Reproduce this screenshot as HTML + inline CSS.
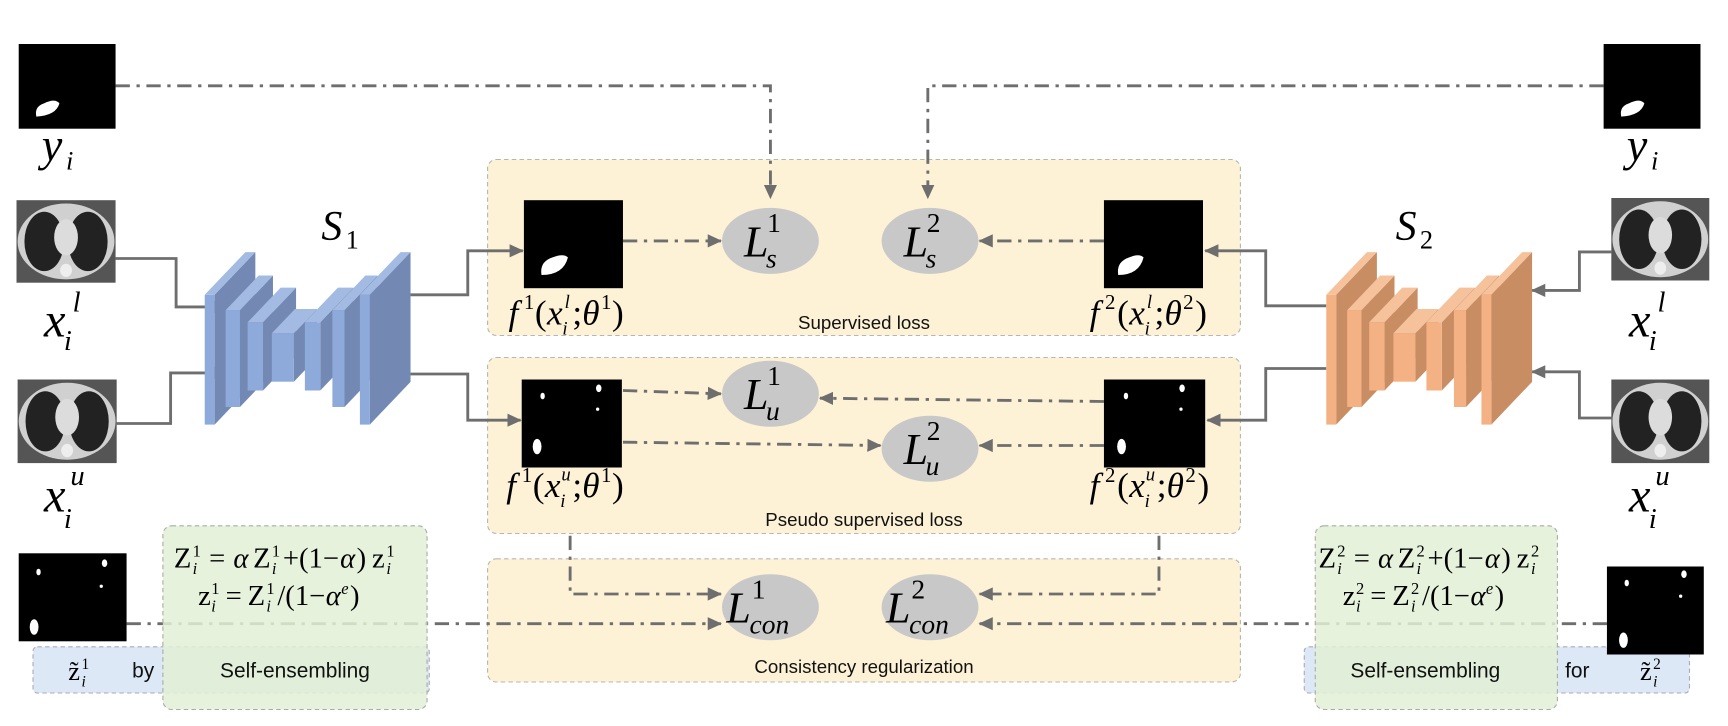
<!DOCTYPE html>
<html><head><meta charset="utf-8">
<style>
html,body{margin:0;padding:0;background:#fff;width:1728px;height:726px;overflow:hidden}
svg{display:block}
.m{font-family:"Liberation Serif",serif;font-style:italic;fill:#000}
.r{font-family:"Liberation Serif",serif;fill:#000}
.s{font-family:"Liberation Sans",sans-serif;fill:#111}
.ln{stroke:#6e6e6e;stroke-width:2.6;fill:none}
.dd{stroke:#6e6e6e;stroke-width:2.6;fill:none;stroke-dasharray:13,6,3,6}
.n{font-style:normal}
.it{font-style:italic}
</style></head><body>
<svg width="1728" height="726" viewBox="0 0 1570 660" preserveAspectRatio="none" xmlns="http://www.w3.org/2000/svg">
<defs>
<marker id="ah" markerUnits="userSpaceOnUse" markerWidth="14" markerHeight="14" refX="12" refY="7" orient="auto"><path d="M0,1 L13,7 L0,13 Z" fill="#6e6e6e"/></marker>
</defs>

<rect x="443" y="145" width="684" height="160" rx="8" fill="#fdf2d6" stroke="#b5b5b5" stroke-dasharray="4,3"/>
<rect x="443" y="325" width="684" height="160" rx="8" fill="#fdf2d6" stroke="#b5b5b5" stroke-dasharray="4,3"/>
<rect x="443" y="508" width="684" height="112" rx="8" fill="#fdf2d6" stroke="#b5b5b5" stroke-dasharray="4,3"/>
<rect x="30" y="588" width="360" height="42" rx="4" fill="#dde8f6" stroke="#aab" stroke-dasharray="4,3"/>
<rect x="1185" y="588" width="350" height="42" rx="4" fill="#dde8f6" stroke="#aab" stroke-dasharray="4,3"/>

<g>
<path class="dd" d="M105,78 H700 V180" marker-end="url(#ah)"/>
<path class="dd" d="M1457,78 H843 V180" marker-end="url(#ah)"/>
<path class="ln" d="M105,235 H160 V279 H206" marker-end="url(#ah)"/>
<path class="ln" d="M106,385 H155 V339 H206" marker-end="url(#ah)"/>
<path class="ln" d="M373,268 H425 V228 H475" marker-end="url(#ah)"/>
<path class="ln" d="M373,340 H425 V382 H473" marker-end="url(#ah)"/>
<path class="dd" d="M566,219 H655" marker-end="url(#ah)"/>
<path class="dd" d="M1003,219 H890" marker-end="url(#ah)"/>
<path class="dd" d="M566,355 L655,358" marker-end="url(#ah)"/>
<path class="dd" d="M1003,365 L745,362" marker-end="url(#ah)"/>
<path class="dd" d="M566,402 L800,405" marker-end="url(#ah)"/>
<path class="dd" d="M1003,405 H890" marker-end="url(#ah)"/>
<path class="dd" d="M518,487 V540 H655" marker-end="url(#ah)"/>
<path class="dd" d="M1053,487 V540 H890" marker-end="url(#ah)"/>
<path class="dd" d="M115,567 H655" marker-end="url(#ah)"/>
<path class="dd" d="M1460,567 H890" marker-end="url(#ah)"/>
<path class="ln" d="M1464,229 H1435 V264 H1392" marker-end="url(#ah)"/>
<path class="ln" d="M1464,380 H1435 V338 H1392" marker-end="url(#ah)"/>
<path class="ln" d="M1205,278 H1150 V228 H1095" marker-end="url(#ah)"/>
<path class="ln" d="M1205,335 H1150 V382 H1097" marker-end="url(#ah)"/>
</g>

<rect x="148" y="478" width="240" height="167" rx="8" fill="#e2f0d5" fill-opacity="0.85" stroke="#aaa" stroke-dasharray="4,3"/>
<rect x="1195" y="478" width="220" height="167" rx="8" fill="#e2f0d5" fill-opacity="0.85" stroke="#aaa" stroke-dasharray="4,3"/>

<g id="s1"></g>
<g id="s2"></g>
<text class="m" x="292" y="218" font-size="38">S<tspan class="n" font-size="24" x="314" y="226">1</tspan></text>
<text class="m" x="1268" y="218" font-size="38">S<tspan class="n" font-size="24" x="1290" y="226">2</tspan></text>

<g><rect x="17" y="40" width="88" height="77" fill="#000"/><path d="M33,106 Q31,97 40,94 Q50,89 54,94 Q51,105 33,106Z" fill="#fff"/></g>
<g><rect x="1457" y="40" width="88" height="77" fill="#000"/><path d="M1473,106 Q1471,97 1480,94 Q1490,89 1494,94 Q1491,105 1473,106Z" fill="#fff"/></g>
<g><rect x="476" y="182" width="90" height="80" fill="#000"/><path d="M492,250 Q490,238 502,234 Q512,230 516,234 Q512,250 492,250Z" fill="#fff"/></g>
<g><rect x="1003" y="182" width="90" height="80" fill="#000"/><path d="M1016,250 Q1014,238 1026,234 Q1035,230 1039,234 Q1035,250 1016,250Z" fill="#fff"/></g>
<g><rect x="474" y="345" width="91" height="80" fill="#000"/><ellipse cx="488" cy="406" rx="4" ry="7" fill="#fff"/><ellipse cx="493" cy="360" rx="2" ry="3" fill="#fff"/><ellipse cx="544" cy="353" rx="2.5" ry="3.5" fill="#fff"/><circle cx="543" cy="372" r="1.5" fill="#fff"/></g>
<g><rect x="1003" y="345" width="92" height="80" fill="#000"/><ellipse cx="1019" cy="406" rx="4" ry="7" fill="#fff"/><ellipse cx="1023" cy="360" rx="2" ry="3" fill="#fff"/><ellipse cx="1074" cy="353" rx="2.5" ry="3.5" fill="#fff"/><circle cx="1073" cy="372" r="1.5" fill="#fff"/></g>
<g><rect x="17" y="503" width="98" height="80" fill="#000"/><ellipse cx="31" cy="570" rx="4" ry="7" fill="#fff"/><ellipse cx="35" cy="520" rx="2" ry="3" fill="#fff"/><ellipse cx="95" cy="512" rx="2.5" ry="3.5" fill="#fff"/><circle cx="92" cy="533" r="1.5" fill="#fff"/></g>
<g><rect x="1460" y="515" width="88" height="80" fill="#000"/><ellipse cx="1475" cy="582" rx="4" ry="7" fill="#fff"/><ellipse cx="1478" cy="530" rx="2" ry="3" fill="#fff"/><ellipse cx="1530" cy="522" rx="2.5" ry="3.5" fill="#fff"/><circle cx="1527" cy="542" r="1.5" fill="#fff"/></g>

<g id="cts"></g>

<g>
<ellipse cx="700" cy="219" rx="44" ry="30" fill="#c8c8c8"/>
<ellipse cx="845" cy="219" rx="44" ry="30" fill="#c8c8c8"/>
<ellipse cx="700" cy="358" rx="44" ry="30" fill="#c8c8c8"/>
<ellipse cx="845" cy="408" rx="44" ry="30" fill="#c8c8c8"/>
<ellipse cx="700" cy="552" rx="44" ry="30" fill="#c8c8c8"/>
<ellipse cx="845" cy="552" rx="44" ry="30" fill="#c8c8c8"/>
</g>
<text class="m" x="676" y="233" font-size="40">L<tspan font-size="25" x="696" y="243">s</tspan><tspan class="n" font-size="25" x="697" y="211">1</tspan></text>
<text class="m" x="821" y="233" font-size="40">L<tspan font-size="25" x="841" y="243">s</tspan><tspan class="n" font-size="25" x="842" y="211">2</tspan></text>
<text class="m" x="676" y="372" font-size="40">L<tspan font-size="25" x="696" y="382">u</tspan><tspan class="n" font-size="25" x="697" y="350">1</tspan></text>
<text class="m" x="821" y="422" font-size="40">L<tspan font-size="25" x="841" y="432">u</tspan><tspan class="n" font-size="25" x="842" y="400">2</tspan></text>
<text class="m" x="660" y="566" font-size="40">L<tspan font-size="25" x="681" y="576">con</tspan><tspan class="n" font-size="25" x="683" y="544">1</tspan></text>
<text class="m" x="805" y="566" font-size="40">L<tspan font-size="25" x="826" y="576">con</tspan><tspan class="n" font-size="25" x="828" y="544">2</tspan></text>

<text class="m" x="38" y="146" font-size="42">y<tspan font-size="24" x="60" y="154">i</tspan></text>
<text class="m" x="1478" y="146" font-size="42">y<tspan font-size="24" x="1500" y="154">i</tspan></text>
<text class="m" x="40" y="306" font-size="44">x<tspan font-size="26" x="58" y="318">i</tspan><tspan font-size="26" x="66" y="283">l</tspan></text>
<text class="m" x="40" y="465" font-size="44">x<tspan font-size="26" x="58" y="480">i</tspan><tspan font-size="26" x="64" y="441">u</tspan></text>
<text class="m" x="1480" y="306" font-size="44">x<tspan font-size="26" x="1498" y="318">i</tspan><tspan font-size="26" x="1506" y="283">l</tspan></text>
<text class="m" x="1480" y="465" font-size="44">x<tspan font-size="26" x="1498" y="480">i</tspan><tspan font-size="26" x="1504" y="441">u</tspan></text>

<text class="m" x="462" y="295" font-size="32">f<tspan class="n" font-size="19" x="476" y="281">1</tspan><tspan class="n" x="486" y="295">(</tspan><tspan x="497" y="295">x</tspan><tspan font-size="17" x="511" y="304">i</tspan><tspan font-size="17" x="513" y="280">l</tspan><tspan class="n" x="520" y="295">;</tspan><tspan x="529" y="295">θ</tspan><tspan class="n" font-size="19" x="546" y="281">1</tspan><tspan class="n" x="556" y="295">)</tspan></text>
<text class="m" x="990" y="295" font-size="32">f<tspan class="n" font-size="19" x="1004" y="281">2</tspan><tspan class="n" x="1015" y="295">(</tspan><tspan x="1026" y="295">x</tspan><tspan font-size="17" x="1040" y="304">i</tspan><tspan font-size="17" x="1042" y="280">l</tspan><tspan class="n" x="1049" y="295">;</tspan><tspan x="1058" y="295">θ</tspan><tspan class="n" font-size="19" x="1075" y="281">2</tspan><tspan class="n" x="1086" y="295">)</tspan></text>
<text class="m" x="460" y="452" font-size="32">f<tspan class="n" font-size="19" x="474" y="438">1</tspan><tspan class="n" x="484" y="452">(</tspan><tspan x="495" y="452">x</tspan><tspan font-size="17" x="509" y="461">i</tspan><tspan font-size="17" x="510" y="437">u</tspan><tspan class="n" x="520" y="452">;</tspan><tspan x="529" y="452">θ</tspan><tspan class="n" font-size="19" x="546" y="438">1</tspan><tspan class="n" x="556" y="452">)</tspan></text>
<text class="m" x="990" y="452" font-size="32">f<tspan class="n" font-size="19" x="1004" y="438">2</tspan><tspan class="n" x="1015" y="452">(</tspan><tspan x="1026" y="452">x</tspan><tspan font-size="17" x="1040" y="461">i</tspan><tspan font-size="17" x="1041" y="437">u</tspan><tspan class="n" x="1051" y="452">;</tspan><tspan x="1060" y="452">θ</tspan><tspan class="n" font-size="19" x="1077" y="438">2</tspan><tspan class="n" x="1088" y="452">)</tspan></text>

<text class="s" x="785" y="299" font-size="17" text-anchor="middle">Supervised loss</text>
<text class="s" x="785" y="478" font-size="17" text-anchor="middle">Pseudo supervised loss</text>
<text class="s" x="785" y="612" font-size="17" text-anchor="middle">Consistency regularization</text>

<g id="formulas"></g>

<text class="s" x="268" y="616" font-size="19" text-anchor="middle">Self-ensembling</text>
<text class="s" x="1295" y="616" font-size="19" text-anchor="middle">Self-ensembling</text>
<text class="s" x="120" y="616" font-size="19">by</text>
<text class="s" x="1422" y="616" font-size="19">for</text>
<text class="r" x="62" y="618" font-size="24">z̃<tspan font-size="14" x="74" y="608">1</tspan><tspan class="it" font-size="14" x="74" y="624">i</tspan></text>
<text class="r" x="1490" y="618" font-size="24">z̃<tspan font-size="14" x="1502" y="608">2</tspan><tspan class="it" font-size="14" x="1502" y="624">i</tspan></text>
</svg>
<script>
const NS='http://www.w3.org/2000/svg';
const blocks=[[186,9,268,118,37],[205,13,282,88,30],[225,14,293,62,30],[247,20,303,44,21],[277,14,293,62,30],[302,11,282,88,30],[327,9,268,118,37]];
function drawNet(g,off,front,side,top){
  blocks.forEach(b=>{
    const [x0,w,y,h,d]=b, x=x0+off, dy=d*1.05;
    const sp=document.createElementNS(NS,'polygon');
    sp.setAttribute('points',`${x+w},${y} ${x+w+d},${y-dy} ${x+w+d},${y+h-dy} ${x+w},${y+h}`);
    sp.setAttribute('fill',side);
    
    
    g.appendChild(sp);
    const tp=document.createElementNS(NS,'polygon');
    tp.setAttribute('points',`${x},${y} ${x+d},${y-dy} ${x+w+d},${y-dy} ${x+w},${y}`);
    tp.setAttribute('fill',top);
    
    
    g.appendChild(tp);
    const fr=document.createElementNS(NS,'rect');
    fr.setAttribute('x',x);fr.setAttribute('y',y);fr.setAttribute('width',w);fr.setAttribute('height',h);
    fr.setAttribute('fill',front);
    
    
    g.appendChild(fr);
  });
}
drawNet(document.getElementById('s1'),0,'#8eaadb','#7389b3','#a3bbe3');
drawNet(document.getElementById('s2'),1019,'#f4b183','#c98d64','#f6c29c');

const cts=[[15,182,90,75],[16,345,90,76],[1464,180,89,75],[1464,345,89,76]];
const cg=document.getElementById('cts');
cts.forEach(c=>{
  const [x,y,w,h]=c;
  const g=document.createElementNS(NS,'g');
  
  
  g.innerHTML=`<rect x="${x}" y="${y}" width="${w}" height="${h}" fill="#555"/>
  <ellipse cx="${x+w/2}" cy="${y+h/2}" rx="${w/2-1}" ry="${h/2-3}" fill="#d0d0d0"/>
  <ellipse cx="${x+w*0.28}" cy="${y+h*0.5}" rx="${w*0.2}" ry="${h*0.36}" fill="#222"/>
  <ellipse cx="${x+w*0.72}" cy="${y+h*0.5}" rx="${w*0.2}" ry="${h*0.36}" fill="#222"/>
  <ellipse cx="${x+w*0.5}" cy="${y+h*0.45}" rx="${w*0.12}" ry="${h*0.22}" fill="#dcdcdc"/>
  <ellipse cx="${x+w*0.5}" cy="${y+h*0.85}" rx="${w*0.06}" ry="${h*0.08}" fill="#eee"/>`;
  cg.appendChild(g);
});

function formula(ox, oy, sup, lines){
  const fg=document.getElementById('formulas');
  lines.forEach((ln,li)=>{
    const t=document.createElementNS(NS,'text');
    t.setAttribute('class','r');
    t.setAttribute('x',ox);t.setAttribute('y',oy+li*34);
    t.setAttribute('font-size','26');
    
    
    ln.forEach(p=>{
      const s=document.createElementNS(NS,'tspan');
      s.setAttribute('x',ox+p[1]);s.setAttribute('y',oy+li*34+p[2]);
      s.setAttribute('font-size',p[3]);
      if(p[4]) s.setAttribute('font-style','italic');
      s.textContent=p[0]==='S'?sup:p[0];
      t.appendChild(s);
    });
    fg.appendChild(t);
  });
}
const L1=[['Z',0,0,26],['S',17,-10,15],['i',17,6,15,1],['=',32,0,26],['α',54,0,26,1],['Z',72,0,26],['S',89,-10,15],['i',89,6,15,1],['+(1−',99,0,26],['α',151,0,26,1],[')',166,0,26],['z',180,0,26],['S',193,-10,15],['i',193,6,15,1]];
const L2=[['z',22,0,26],['S',34,-10,15],['i',34,6,15,1],['=',47,0,26],['Z',67,0,26],['S',84,-10,15],['i',84,6,15,1],['/(1−',94,0,26],['α',138,0,26,1],['e',152,-10,15,1],[')',160,0,26]];
formula(158,516,'1',[L1,L2]);
formula(1198,516,'2',[L1,L2]);
</script>
</body></html>
